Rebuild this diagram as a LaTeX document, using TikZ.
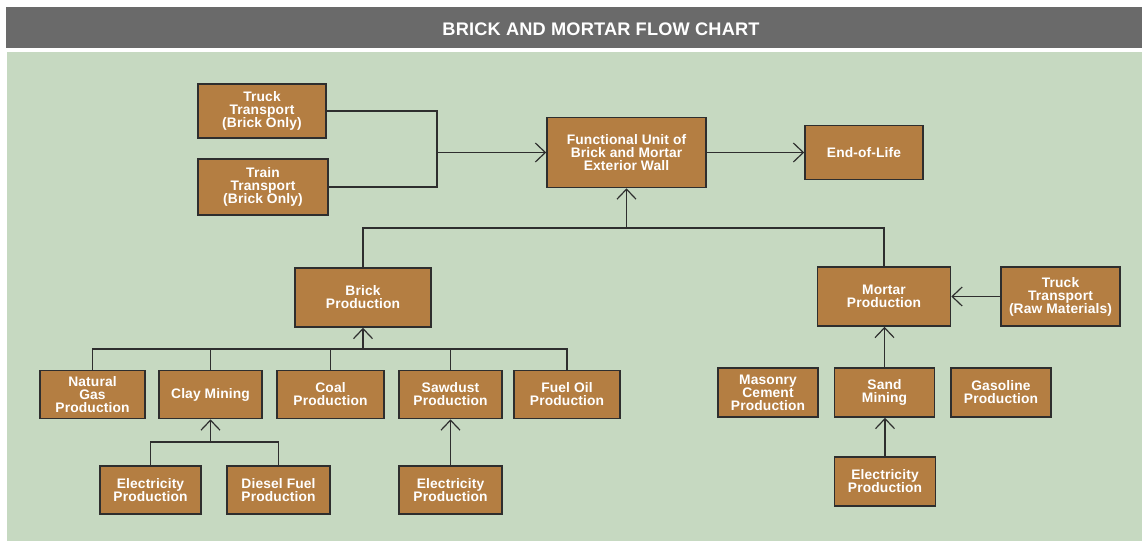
\documentclass[tikz,border=0pt]{standalone}
\usepackage{fontspec}
\setmainfont{Liberation Sans}
\newfontfamily\boxfont[LetterSpace=1]{Liberation Sans}
\newfontfamily\titlefont[LetterSpace=1]{Liberation Sans}
\usetikzlibrary{arrows.meta}
\definecolor{brickc}{HTML}{B47E42}
\definecolor{sage}{HTML}{C6D9C1}
\definecolor{barc}{HTML}{6A6A6A}
\definecolor{linec}{HTML}{2E2E2E}
\tikzset{
  box/.style={draw=linec, line width=1.6pt, fill=brickc, text=white,
    font=\boxfont\bfseries\fontsize{13.8}{13}\selectfont, align=center,
    inner sep=0pt},
  conn/.style={draw=linec, line width=1.2pt},
  arr/.style={conn, -{Straight Barb[length=10pt,width=19pt,line width=1.2pt]}},
}
\begin{document}
\begin{tikzpicture}[x=1pt,y=-1pt]
\useasboundingbox (0,0) rectangle (1142,541);
\fill[white] (0,0) rectangle (1142,541);
\fill[barc] (6,7) rectangle (1142,48);
\fill[sage] (7,52) rectangle (1142,541);
\node[text=white, font=\titlefont\bfseries\fontsize{18.2}{18}\selectfont] (title) at (601,29) {BRICK AND MORTAR FLOW CHART};

% top row
\node[box, minimum width=128pt, minimum height=54pt] (truckB) at (262,111) {Truck\\Transport\\(Brick Only)};
\node[box, minimum width=130pt, minimum height=56pt] (trainB) at (263,187) {Train\\Transport\\(Brick Only)};
\node[box, minimum width=159pt, minimum height=70pt] (func) at (626.5,152.5) {Functional Unit of\\Brick and Mortar\\Exterior Wall};
\node[box, minimum width=118pt, minimum height=54pt] (eol) at (864,152.5) {End-of-Life};

% second row
\node[box, minimum width=136pt, minimum height=59pt] (brick) at (363,297.5) {Brick\\Production};
\node[box, minimum width=133pt, minimum height=59pt] (mortar) at (884,296.5) {Mortar\\Production};
\node[box, minimum width=119pt, minimum height=59pt] (truckR) at (1060.5,296.5) {Truck\\Transport\\(Raw Materials)};

% third row
\node[box, minimum width=105pt, minimum height=48pt] (ngas) at (92.5,394.5) {Natural\\Gas\\Production};
\node[box, minimum width=103pt, minimum height=48pt] (clay) at (210.5,394.5) {Clay Mining};
\node[box, minimum width=107pt, minimum height=48pt] (coal) at (330.5,394.5) {Coal\\Production};
\node[box, minimum width=103pt, minimum height=48pt] (sawdust) at (450.5,394.5) {Sawdust\\Production};
\node[box, minimum width=106pt, minimum height=48pt] (fueloil) at (567,394.5) {Fuel Oil\\Production};
\node[box, minimum width=100pt, minimum height=49pt] (masonry) at (768,392.5) {Masonry\\Cement\\Production};
\node[box, minimum width=100pt, minimum height=49pt] (sand) at (884.5,392.5) {Sand\\Mining};
\node[box, minimum width=100pt, minimum height=49pt] (gasoline) at (1001,392.5) {Gasoline\\Production};

% fourth row
\node[box, minimum width=101pt, minimum height=48pt] (elec1) at (150.5,490) {Electricity\\Production};
\node[box, minimum width=103pt, minimum height=48pt] (diesel) at (278.5,490) {Diesel Fuel\\Production};
\node[box, minimum width=103pt, minimum height=48pt] (elec2) at (450.5,490) {Electricity\\Production};
\node[box, minimum width=101pt, minimum height=49pt] (elec3) at (885,481.5) {Electricity\\Production};

% connectors
\coordinate (j1) at (437,152.5);
\draw[conn] (truckB.east) -| (j1);
\draw[conn] (trainB.east) -| (j1);
\draw[arr] (j1) -- (func.west);
\draw[arr] (func.east) -- (eol.west);

\coordinate (b1) at (626.5,228);
\draw[conn] (brick.north) |- (b1) -| (mortar.north);
\draw[arr] (b1) -- (func.south);

\coordinate (b2) at (363,349);
\draw[conn] (ngas.north) |- (b2) -| (fueloil.north);
\draw[conn] (clay.north) -- (clay.north |- b2);
\draw[conn] (coal.north) -- (coal.north |- b2);
\draw[conn] (sawdust.north) -- (sawdust.north |- b2);
\draw[arr] (b2) -- (brick.south);

\coordinate (b3) at (210.5,442);
\draw[conn] (elec1.north) |- (b3) -| (diesel.north);
\draw[arr] (b3) -- (clay.south);
\draw[arr] (elec2.north) -- (sawdust.south);

\draw[arr] (truckR.west) -- (mortar.east);
\draw[arr] (sand.north) -- (sand.north |- mortar.south);
\draw[arr] (elec3.north) -- (elec3.north |- sand.south);
\end{tikzpicture}
\end{document}
